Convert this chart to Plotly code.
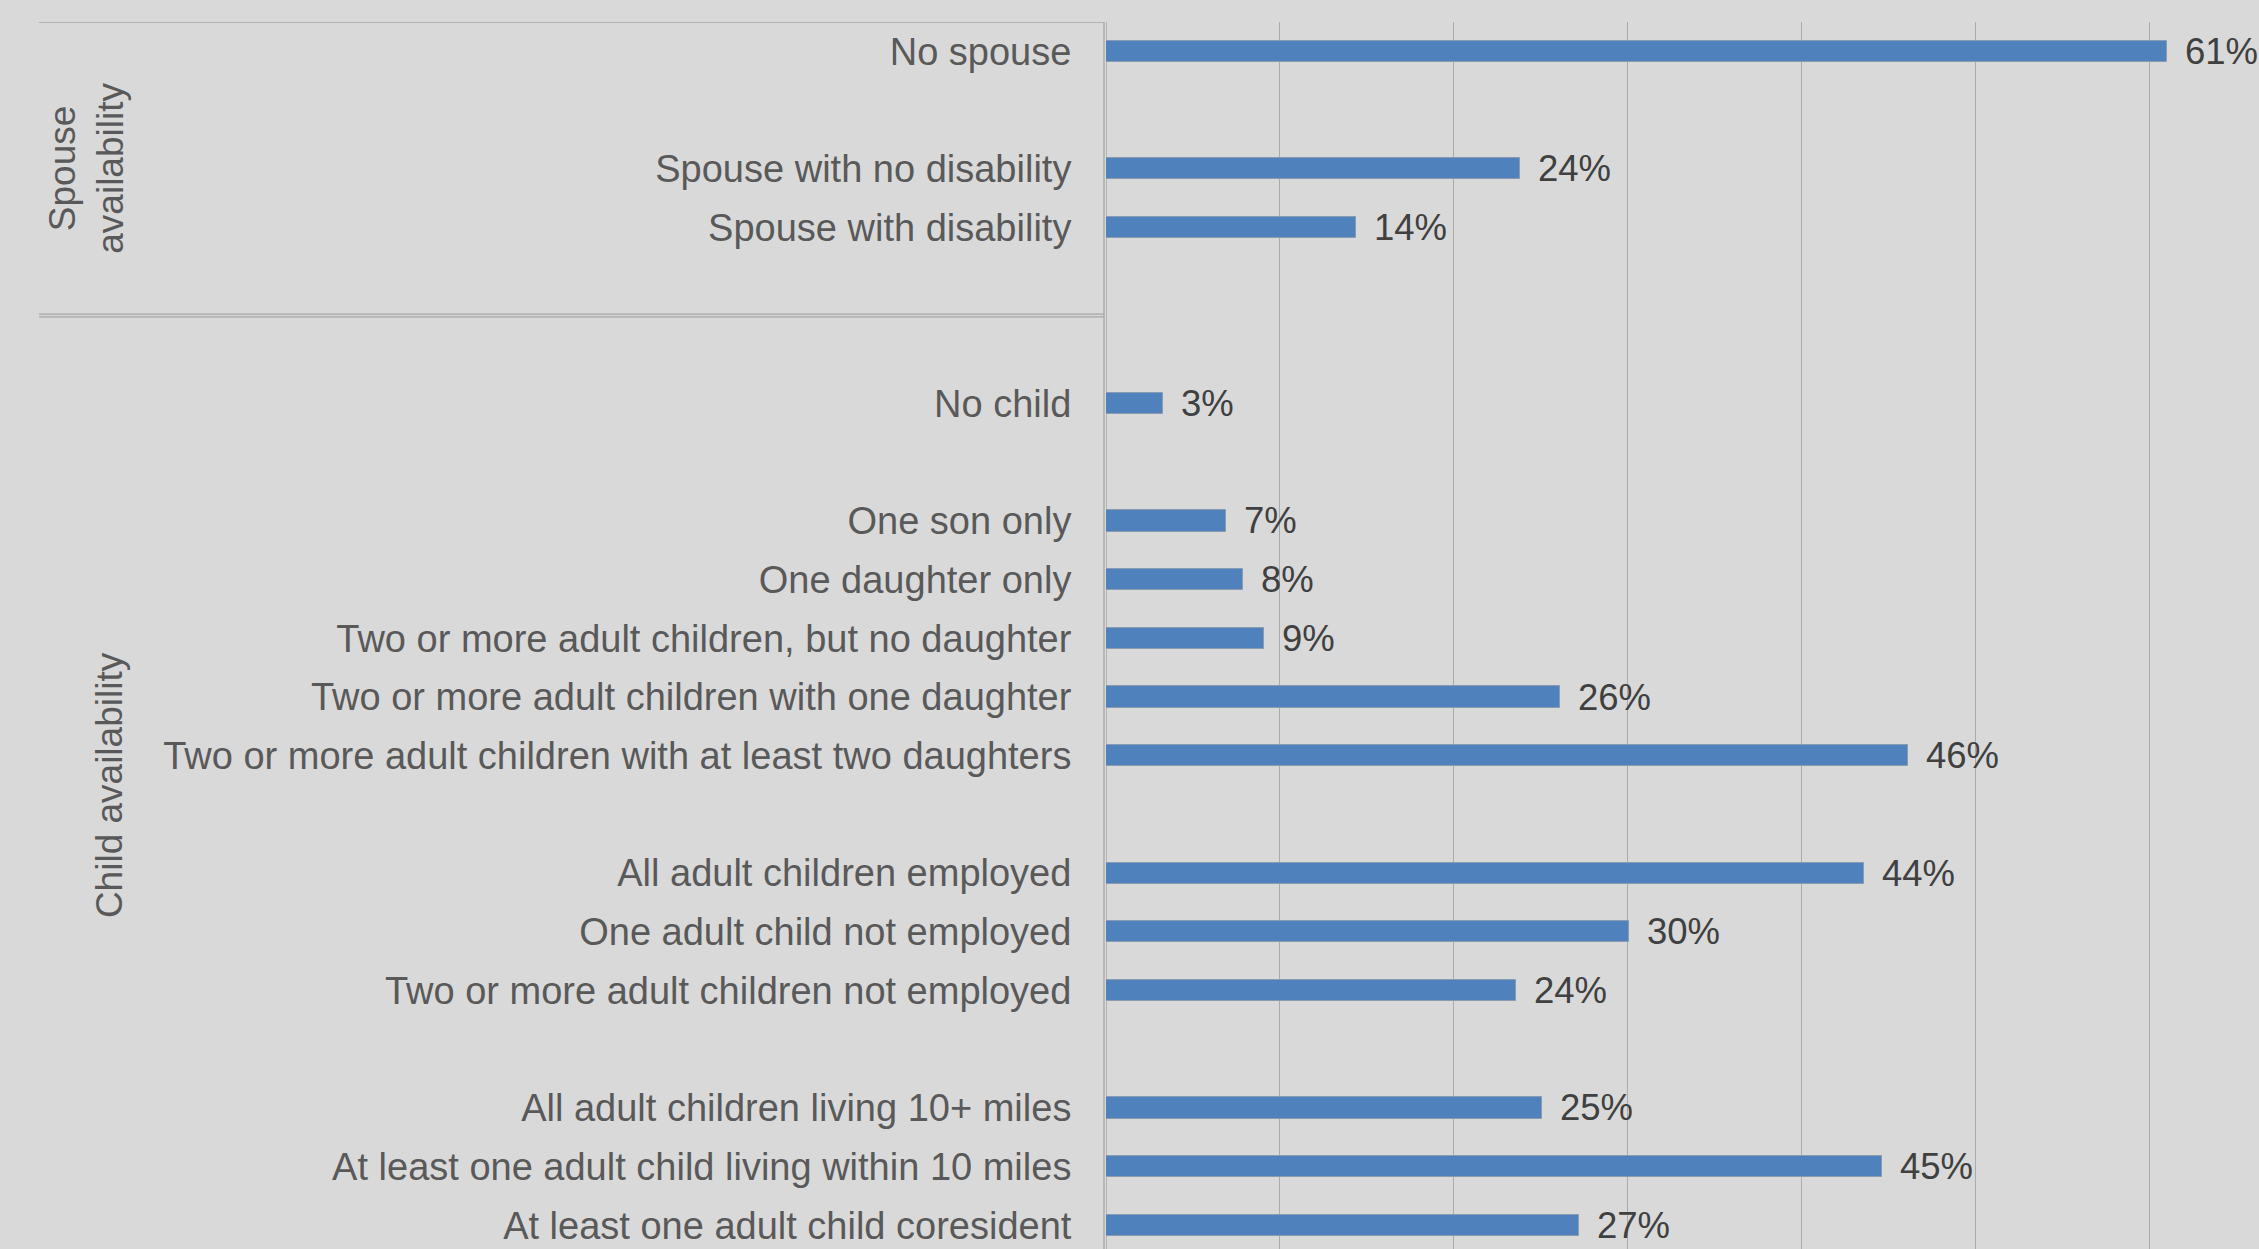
import plotly.graph_objects as go

# ---- data ----
spouse_labels = ["No spouse", "Spouse with no disability", "Spouse with disability"]
spouse_values = [61.0, 23.8, 14.4]

child_labels = [
    "No child",
    "One son only",
    "One daughter only",
    "Two or more adult children, but no daughter",
    "Two or more adult children with one daughter",
    "Two or more adult children with at least two daughters",
    "All adult children employed",
    "One adult child not employed",
    "Two or more adult children not employed",
    "All adult children living 10+ miles",
    "At least one adult child living within 10 miles",
    "At least one adult child coresident",
]
child_values = [3.3, 6.9, 7.9, 9.1, 26.1, 46.1, 43.6, 30.1, 23.6, 25.1, 44.6, 27.2]

group_titles = ["Spouse<br>availability", "Child availability"]
# sub-group sizes within each main group (a blank row separates sub-groups)
spouse_subgroups = [1, 2]
child_subgroups = [1, 5, 3, 3]

# ---- row positions (one slot per row, blank slots between sub-groups) ----
def layout_rows(subgroups, start, lead_blank, trail_blank):
    pos = []
    p = start + lead_blank
    for i, n in enumerate(subgroups):
        if i > 0:
            p += 1
        for _ in range(n):
            pos.append(p)
            p += 1
    return pos, p + trail_blank

spouse_pos, nxt = layout_rows(spouse_subgroups, 0, 0, 1)
spouse_span = (-0.5, nxt - 0.5)
child_pos, end = layout_rows(child_subgroups, nxt, 1, 0)
child_span = (nxt - 0.5, end - 0.5)

labels = spouse_labels + child_labels
values = spouse_values + child_values
positions = spouse_pos + child_pos

W, H = 2259, 1249
ML, MT = 1106, 22
plot_w = W - ML
plot_h = H - MT
px_per_unit = 17.39
slot_px = 58.7

xmax = plot_w / px_per_unit
ybottom = -0.5 + plot_h / slot_px

FONT = "Liberation Sans, Arial, sans-serif"
LINE = "#a6a6a6"

fig = go.Figure()
fig.add_trace(go.Bar(
    x=values, y=positions, orientation="h",
    width=0.36,
    marker=dict(color="#4f81bd", line=dict(color="#8a9bb0", width=1)),
    hoverinfo="skip",
))

# data labels
for v, p in zip(values, positions):
    fig.add_annotation(x=v, y=p, xref="x", yref="y", text=f"{v:.0f}%",
                       showarrow=False, xanchor="left", yanchor="middle", xshift=16,
                       font=dict(family=FONT, size=36.5, color="#404040"))

# group titles
fig.add_annotation(x=0, xref="paper", xshift=87 - ML, y=sum(spouse_span) / 2, yref="y",
                   text=group_titles[0], textangle=-90, showarrow=False,
                   xanchor="center", yanchor="middle",
                   font=dict(family=FONT, size=37, color="#595959"))
fig.add_annotation(x=0, xref="paper", xshift=109 - ML, y=sum(child_span) / 2, yref="y",
                   text=group_titles[1], textangle=-90, showarrow=False,
                   xanchor="center", yanchor="middle",
                   font=dict(family=FONT, size=37, color="#595959"))

# group divider lines
x_left = (39 - ML) / plot_w
x_right = (1104 - ML) / plot_w
dy = 1.4 / slot_px
for yy in [spouse_span[0], spouse_span[1] - dy, spouse_span[1] + dy]:
    fig.add_shape(type="line", xref="paper", yref="y", x0=x_left, x1=x_right,
                  y0=yy, y1=yy, line=dict(color=LINE, width=1.3))
fig.add_shape(type="line", xref="paper", yref="y", x0=x_right, x1=x_right,
              y0=spouse_span[0], y1=ybottom, line=dict(color=LINE, width=1.3))

fig.update_layout(
    width=W, height=H,
    margin=dict(l=ML, r=0, t=MT, b=0, pad=0),
    paper_bgcolor="#d9d9d9", plot_bgcolor="#d9d9d9",
    showlegend=False,
    bargap=0,
    xaxis=dict(range=[0, xmax], dtick=10, tick0=0, showgrid=True, gridcolor="#ababab",
               gridwidth=1.3, zeroline=False, showticklabels=False, showline=False,
               fixedrange=True),
    yaxis=dict(range=[ybottom, -0.5], tickmode="array", tickvals=positions, ticktext=labels,
               showgrid=False, zeroline=False, showline=False,
               ticks="outside", ticklen=26, tickcolor="rgba(0,0,0,0)",
               tickfont=dict(family=FONT, size=38, color="#595959"), fixedrange=True),
)
fig.add_shape(type="line", xref="x", yref="paper", x0=0, x1=0, y0=0, y1=1,
              line=dict(color=LINE, width=1.5), layer="below")

fig.write_html("out.html")
